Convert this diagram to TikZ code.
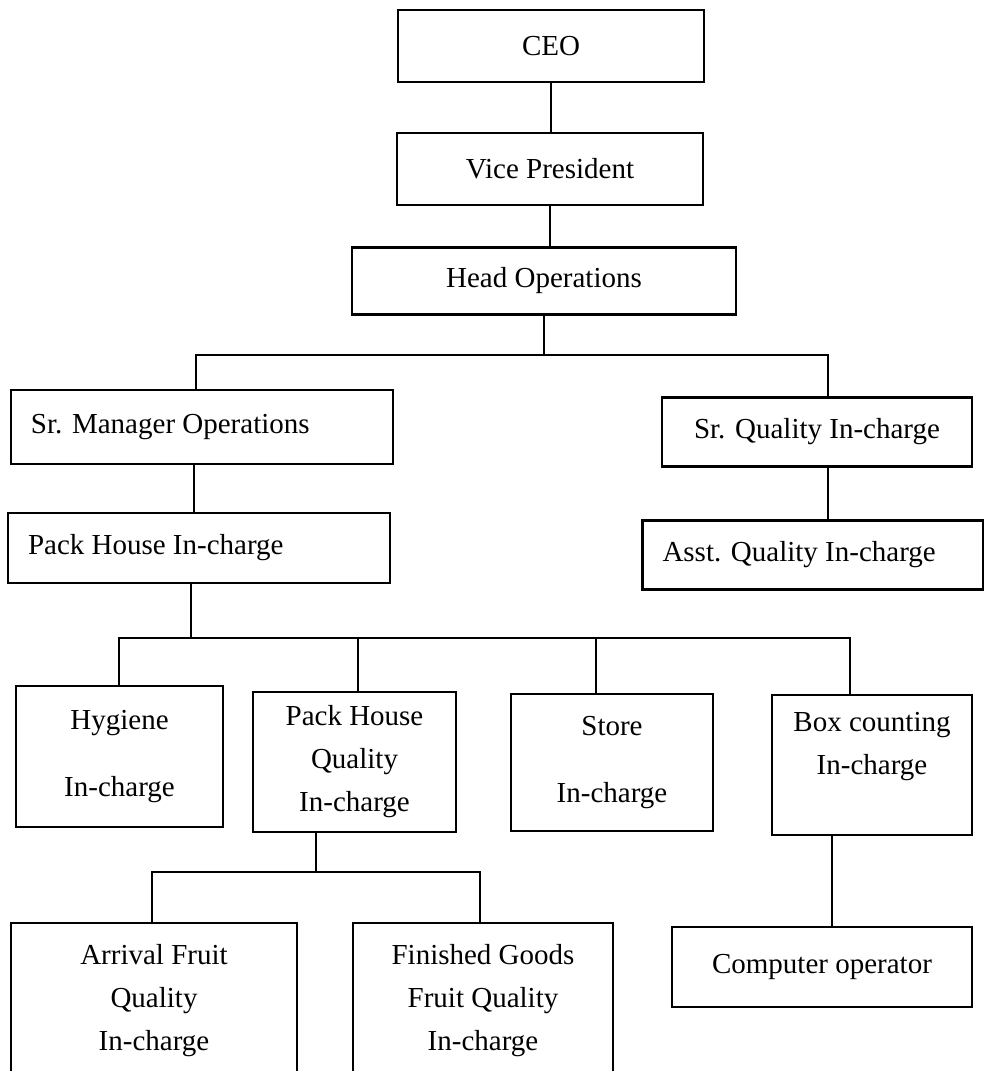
\documentclass[tikz,border=0pt]{standalone}
\usepackage{fontspec}
\setmainfont{Liberation Serif}
\begin{document}
\begin{tikzpicture}[x=0.5pt, y=-0.5pt, line width=1.1pt,
  post/.style 2 args={draw, line width=1.1pt, align=center, minimum width=#1*0.5pt, minimum height=#2*0.5pt, font=\fontsize{14.5}{21.5}\selectfont},
  postl/.style 2 args={draw, line width=1.1pt, align=flush left, inner xsep=10pt, text width=#1, minimum height=#2*0.5pt, font=\fontsize{14.5}{21.5}\selectfont}]

\useasboundingbox (0,0) rectangle (984,1071);

\node[post={306}{72}] (ceo) at (551,46) {CEO};
\node[post={306}{72}] (vp) at (550,169) {Vice President};
\node[post={384}{67}] (headops) at (544,281) {Head Operations};

\node[postl={171pt}{74}] (srmgr) at (202,427) {Sr. Manager Operations};
\node[post={310}{69}] (srqual) at (817,432) {Sr. Quality In-charge};
\node[postl={171pt}{70}] (packhouse) at (199,548) {Pack House In-charge};
\node[postl={150.5pt}{69}] (asstqual) at (813,555) {Asst. Quality In-charge};

\node[post={207}{141}] (hygiene) at (119.5,756.5) {Hygiene\\[12pt]In-charge};
\node[post={203}{140}] (phqual) at (354.5,762) {Pack House\\Quality\\In-charge};
\node[post={202}{137}] (store) at (612,762.5) {Store\\[12pt]In-charge};
\node[post={200}{140}] (boxcount) at (872,765) {Box counting\\In-charge\\\mbox{}};

\node[post={286}{155}] (arrival) at (154,1000.5) {Arrival Fruit\\Quality\\In-charge};
\node[post={260}{155}] (finished) at (483,1000.5) {Finished Goods\\Fruit Quality\\In-charge};
\node[post={300}{80}] (compop) at (822,967) {Computer operator};

% top of the tree
\draw (ceo.south) -- (ceo.south |- vp.north);
\draw (vp.south) -- (vp.south |- headops.north);
\coordinate (opsl) at (196,355);
\coordinate (opsr) at (828,355);
\draw (headops.south) -- (headops.south |- opsl);
\draw (opsl |- srmgr.north) -- (opsl) -- (opsr) -- (opsr |- srqual.north);
\coordinate (mgrdrop) at (194,0);
\draw (srmgr.south -| mgrdrop) -- (packhouse.north -| mgrdrop);
\draw (srqual.south -| opsr) -- (asstqual.north -| opsr);

% pack house branch
\coordinate (phdrop) at (191,638);
\coordinate (phl) at (119,638);
\coordinate (phr) at (850,638);
\coordinate (qdrop) at (358,638);
\coordinate (sdrop) at (596,638);
\draw (phdrop |- packhouse.south) -- (phdrop);
\draw (phl |- hygiene.north) -- (phl) -- (phr) -- (phr |- boxcount.north);
\draw (qdrop) -- (qdrop |- phqual.north);
\draw (sdrop) -- (sdrop |- store.north);

\coordinate (qa) at (316,872);
\coordinate (ql) at (152,872);
\coordinate (qr) at (480,872);
\draw (qa |- phqual.south) -- (qa);
\draw (ql |- arrival.north) -- (ql) -- (qr) -- (qr |- finished.north);
\coordinate (cdrop) at (832,0);
\draw (cdrop |- boxcount.south) -- (cdrop |- compop.north);
\end{tikzpicture}
\end{document}
